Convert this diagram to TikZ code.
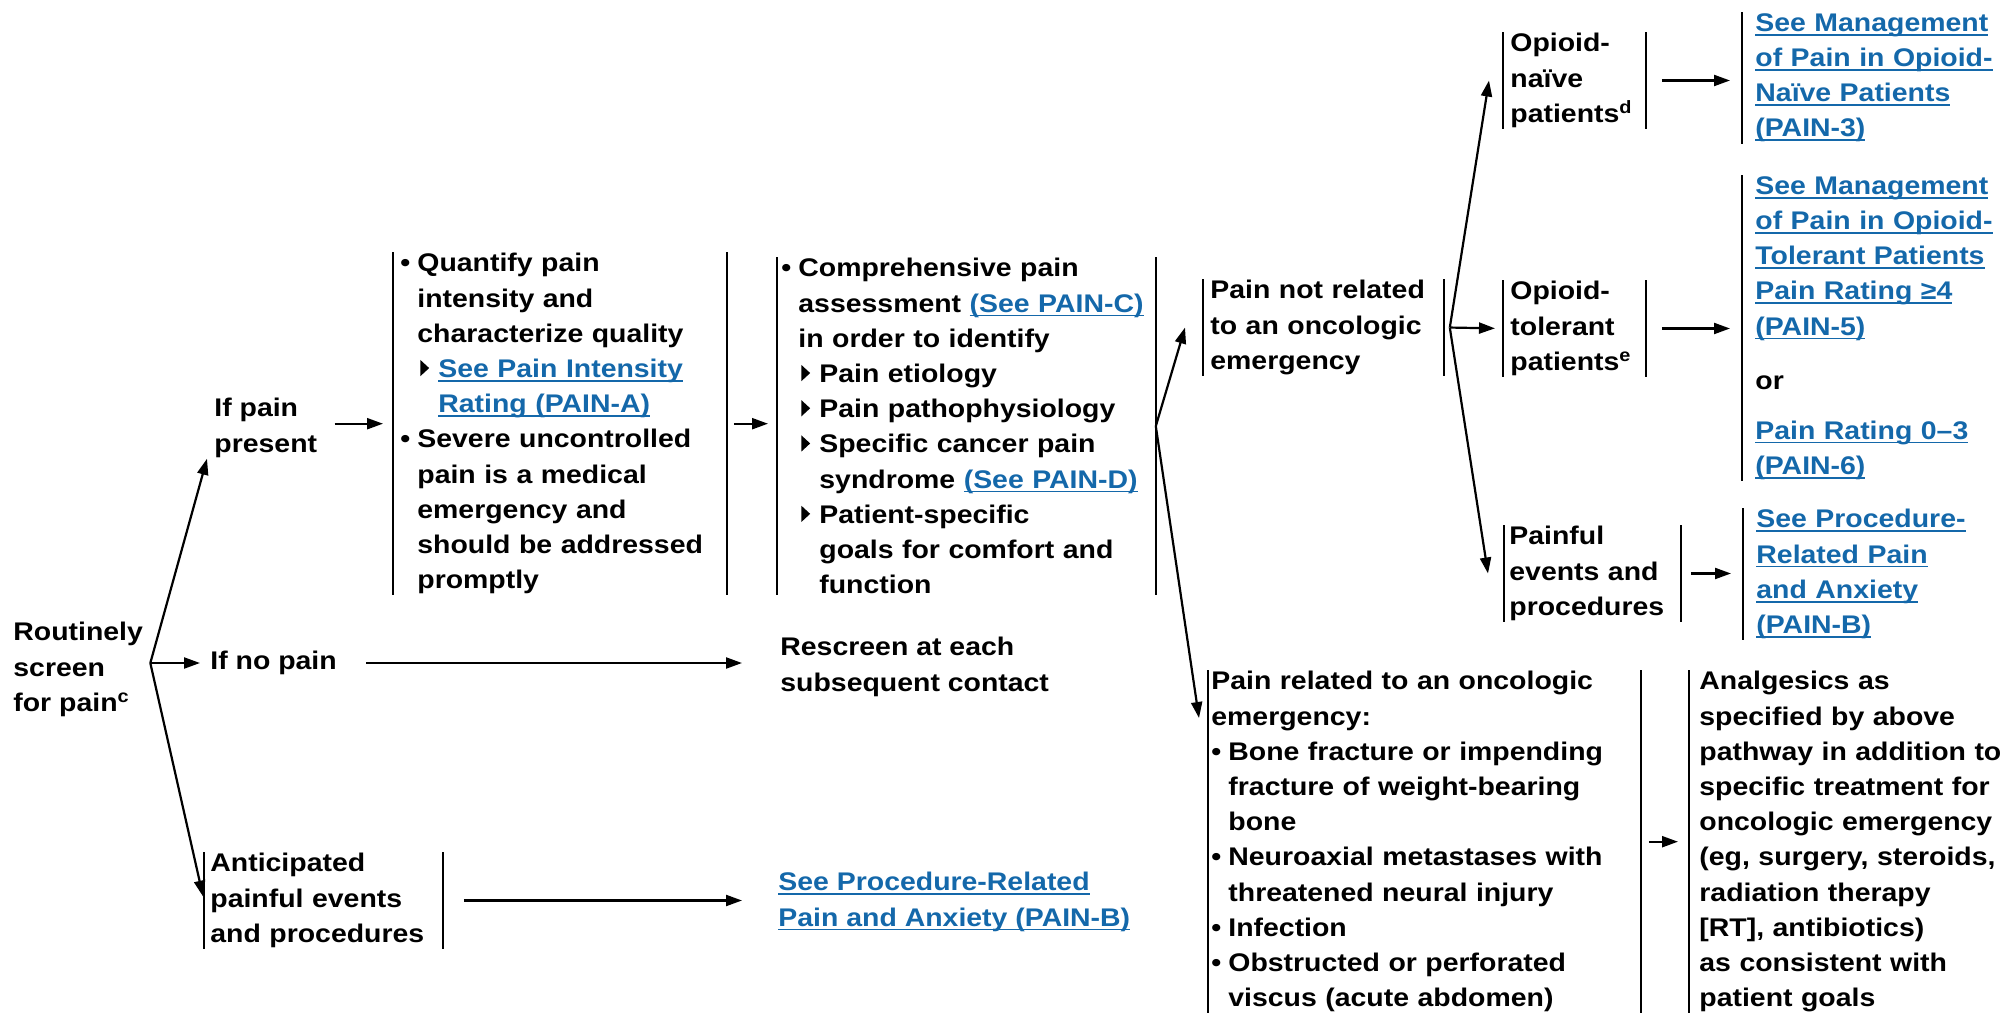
\documentclass[tikz,border=0pt]{standalone}
\usepackage{fontspec}
\setmainfont{Liberation Sans}[FakeStretch=1.115]
\usepackage{xcolor}
\usetikzlibrary{arrows.meta}
\definecolor{linkblue}{RGB}{20,104,170}
\tikzset{>={Triangle[length=8pt,width=5.5pt]}}
\tikzset{%
    txt/.style={anchor=north west, align=left, inner xsep=3.5pt, inner ysep=0.5pt,
        font=\fontsize{12.75pt}{17.6pt}\selectfont\bfseries},
    barline/.style={line width=1.3pt},
    lbar/.style={append after command={\pgfextra{\draw[barline] (\tikzlastnode.north west) -- (\tikzlastnode.south west);}}},
    rbar/.style={append after command={\pgfextra{\draw[barline] (\tikzlastnode.north east) -- (\tikzlastnode.south east);}}},
    bars/.style={lbar,rbar},
    arr/.style={->, line width=1.1pt}
}
\newcommand{\lnk}[1]{\leavevmode{\color{linkblue}\setbox0\hbox{#1}\rlap{\rule[-2.2pt]{\wd0}{0.9pt}}\box0}}
\newcommand{\subtri}{\tikz[baseline=0pt]\fill (0,0.1ex) -- (0,1.3ex) -- (0.65ex,0.7ex) -- cycle;}
\newcommand{\hng}{\hangindent=8.5pt\hangafter=1\makebox[8.5pt][l]{•}}
\newcommand{\itm}{\par\noindent\hng}
\newcommand{\subitm}{\par\noindent\hangindent=19pt\hangafter=1\hspace*{10pt}\makebox[9pt][l]{\subtri}}

\begin{document}
\begin{tikzpicture}[x=0.5pt,y=-0.5pt]
\useasboundingbox (0,0) rectangle (2003,1013);
% screening and first split
\node[txt] (screen) at (6,621) {Routinely\\screen\\for pain\textsuperscript{c}};
\node[txt,anchor=west] (nopain) at (203,663) {If no pain};
\coordinate (f1) at (screen.east |- nopain.west);
\node[txt] (ifpain) at (207,397) {If pain\\present};
\node[txt,bars,inner xsep=3pt,text width=113pt] (anticip) at (204,852) {Anticipated\\painful events\\and procedures};
\node[txt] (rescreen) at (773,636) {Rescreen at each\\subsequent contact};
\node[txt] (seeproc) at (771,871) {\lnk{See Procedure-Related}\\\lnk{Pain and Anxiety (PAIN-B)}};
% assessment
\node[txt,bars,text width=159.5pt] (quant) at (393,252) {%
\hng Quantify pain\newline intensity and\newline characterize quality
\subitm\lnk{See Pain Intensity}\newline \lnk{Rating (PAIN-A)}
\itm Severe uncontrolled\newline pain is a medical\newline emergency and\newline should be addressed\newline promptly\par};
\node[txt,bars,inner xsep=2pt,text width=185pt] (compr) at (777,257) {%
\hng Comprehensive pain\newline assessment \lnk{(See PAIN-C)}\newline in order to identify
\subitm Pain etiology
\subitm Pain pathophysiology
\subitm Specific cancer pain\newline syndrome \lnk{(See PAIN-D)}
\subitm Patient-specific\newline goals for comfort and\newline function\par};
% oncologic emergency or not
\node[txt,bars,text width=113pt] (notrel) at (1203,279) {Pain not related\\to an oncologic\\emergency};
\node[txt,bars,inner xsep=1.5pt,text width=213pt] (related) at (1208,670) {%
Pain related to an oncologic\\emergency:
\itm Bone fracture or impending\newline fracture of weight-bearing\newline bone
\itm Neuroaxial metastases with\newline threatened neural injury
\itm Infection
\itm Obstructed or perforated\newline viscus (acute abdomen)\par};
\node[txt,lbar,inner xsep=5pt,text width=155pt] (analg) at (1689,670) {%
Analgesics as\\specified by above\\pathway in addition to\\specific treatment for\\oncologic emergency\\(eg, surgery, steroids,\\radiation therapy\\{}[RT], antibiotics)\\as consistent with\\patient goals};
% opioid status
\node[txt,bars,text width=64pt] (naive) at (1503,32) {Opioid-\\naïve\\patients\textsuperscript{d}};
\node[txt,bars,text width=64pt] (toler) at (1503,280) {Opioid-\\tolerant\\patients\textsuperscript{e}};
\node[txt,bars,inner xsep=2.5pt,text width=83pt] (painful) at (1504,525) {Painful\\events and\\procedures};
\node[txt,lbar,inner xsep=6.5pt,text width=125pt] (mgmtnaive) at (1742,12) {%
\lnk{See Management}\\\lnk{of Pain in Opioid-}\\\lnk{Naïve Patients}\\\lnk{(PAIN-3)}};
\node[txt,lbar,inner xsep=6.5pt,text width=125pt] (mgmttoler) at (1742,175) {%
\lnk{See Management}\\\lnk{of Pain in Opioid-}\\\lnk{Tolerant Patients}\\\lnk{Pain Rating ≥4}\\\lnk{(PAIN-5)}\\[9.4pt]or\\[7.4pt]\lnk{Pain Rating 0–3}\\\lnk{(PAIN-6)}};
\node[txt,lbar,inner xsep=6.5pt,text width=125pt] (procrel) at (1743,508) {%
\lnk{See Procedure-}\\\lnk{Related Pain}\\\lnk{and Anxiety}\\\lnk{(PAIN-B)}};
% arrows
\draw[arr] (f1) -- (ifpain.south west);
\draw[arr,shorten >=1.5pt] (f1) -- (nopain.west);
\draw[arr,shorten >=2pt] (f1) -- (anticip.west);
\draw[arr,shorten <=5pt,shorten >=5pt] (quant.west -| ifpain.east) -- (quant.west);
\draw[arr,shorten <=3.5pt,shorten >=4.5pt] (quant.east) -- (quant.east -| compr.west);
\draw[arr,shorten <=11pt,shorten >=15.5pt] (nopain.east) -- (nopain.east -| rescreen.west);
\draw[arr,shorten <=10.5pt,shorten >=14.5pt] (anticip.east) -- (anticip.east -| seeproc.west);
\coordinate (f2) at (compr.east);
\draw[arr] (f2) -- ([xshift=-9pt]notrel.west);
\draw[arr] (f2) -- ([xshift=-4.5pt,yshift=-24pt]related.north west);
\draw[arr,shorten <=4pt,shorten >=5.5pt] (related.east) -- (related.east -| analg.west);
\coordinate (f3) at ([xshift=3pt]notrel.east);
\draw[arr] (f3) -- ([xshift=-7pt]naive.west);
\draw[arr,shorten >=4pt] (f3) -- (toler.west);
\draw[arr] (f3) -- ([xshift=-8pt]painful.west);
\draw[arr,shorten <=8pt,shorten >=6pt] (naive.east) -- (naive.east -| mgmtnaive.west);
\draw[arr,shorten <=8pt,shorten >=6pt] (toler.east) -- (toler.east -| mgmttoler.west);
\draw[arr,shorten <=5pt,shorten >=6pt] (painful.east) -- (painful.east -| procrel.west);
\end{tikzpicture}
\end{document}
